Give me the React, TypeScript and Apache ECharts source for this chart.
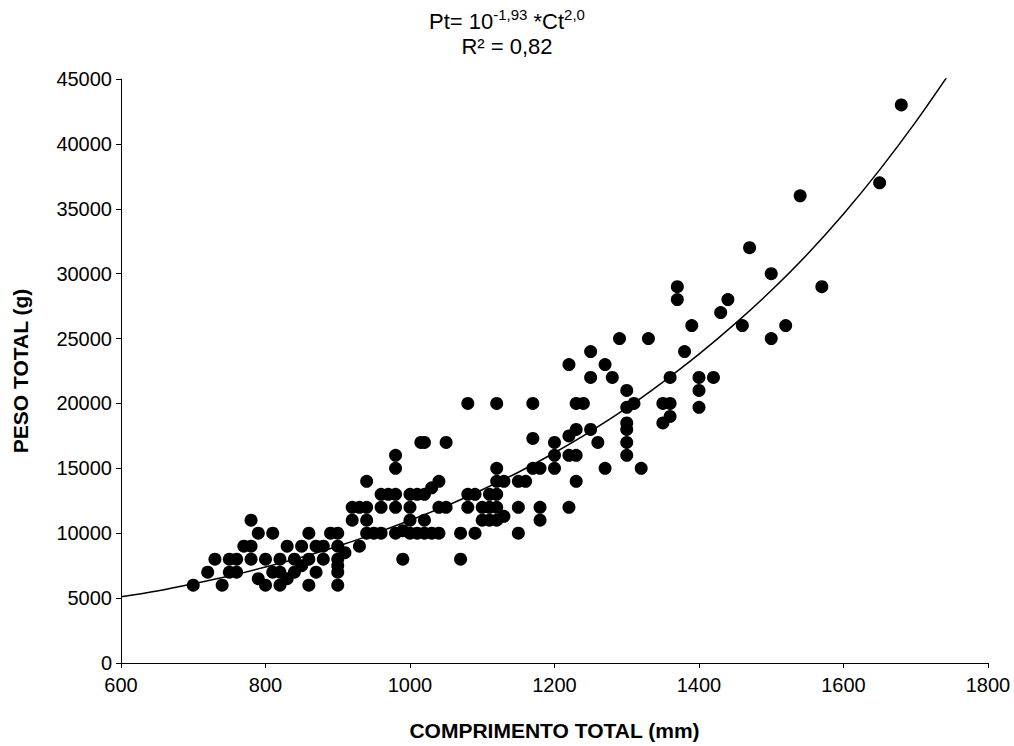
import React, { useEffect, useRef } from "react";
import * as echarts from "echarts";

const comprimento: number[] = [
  700, 720, 730, 740, 750, 750, 760, 760, 770, 780, 780, 780, 790, 790, 800, 800,
  810, 810, 820, 820, 820, 830, 830, 840, 840, 850, 850, 860, 860, 860, 870, 870,
  880, 880, 890, 900, 900, 900, 900, 900, 900, 910,
  920, 920, 930, 930, 940, 940, 940, 940, 950, 960, 960, 960, 970,
  980, 980, 980, 980, 980, 990, 990, 1000, 1000, 1000, 1000, 1010, 1010, 1015,
  1020, 1020, 1020, 1020, 1030, 1030, 1040, 1040, 1040, 1050, 1050, 1070, 1070,
  1080, 1080, 1080, 1090, 1090, 1100, 1100, 1110, 1110, 1110,
  1120, 1120, 1120, 1120, 1120, 1120, 1130, 1130, 1150, 1150, 1150, 1160,
  1170, 1170, 1170, 1180, 1180, 1180, 1200, 1200, 1200,
  1220, 1220, 1220, 1220, 1230, 1230, 1230, 1230, 1240, 1250, 1250, 1250, 1260,
  1270, 1270, 1280, 1290, 1300, 1300, 1300, 1300, 1300, 1300, 1310, 1320, 1330,
  1350, 1350, 1360, 1360, 1360, 1370, 1370, 1380, 1390, 1400, 1400, 1400, 1420,
  1430, 1440, 1460, 1470, 1500, 1500, 1520, 1540, 1570, 1650, 1680,
];

const peso: number[] = [
  6000, 7000, 8000, 6000, 7000, 8000, 7000, 8000, 9000, 11000, 9000, 8000, 10000, 6500, 8000, 6000,
  10000, 7000, 8000, 7000, 6000, 9000, 6500, 8000, 7000, 9000, 7500, 10000, 8000, 6000, 9000, 7000,
  9000, 8000, 10000, 10000, 9000, 8000, 7500, 7000, 6000, 8500,
  12000, 11000, 12000, 9000, 14000, 12000, 11000, 10000, 10000, 13000, 12000, 10000, 13000,
  16000, 15000, 13000, 12000, 10000, 10200, 8000, 13000, 12000, 11000, 10000, 13000, 10000, 17000,
  17000, 13000, 11000, 10000, 13500, 10000, 14000, 12000, 10000, 17000, 12000, 10000, 8000,
  20000, 13000, 12000, 13000, 10000, 12000, 11000, 13000, 12000, 11000,
  20000, 15000, 14000, 13000, 12000, 11000, 14000, 11300, 14000, 12000, 10000, 14000,
  20000, 17300, 15000, 15000, 12000, 11000, 17000, 16000, 15000,
  23000, 17500, 16000, 12000, 20000, 18000, 16000, 14000, 20000, 24000, 22000, 18000, 17000,
  23000, 15000, 22000, 25000, 21000, 19700, 18500, 18000, 17000, 16000, 20000, 15000, 25000,
  20000, 18500, 22000, 20000, 19000, 29000, 28000, 24000, 26000, 22000, 21000, 19700, 22000,
  27000, 28000, 26000, 32000, 30000, 25000, 26000, 36000, 29000, 37000, 43000,
];

// trend line, every 50 mm
const curvaX: number[] = [
  600, 650, 700, 750, 800, 850, 900, 950, 1000, 1050, 1100, 1150, 1200,
  1250, 1300, 1350, 1400, 1450, 1500, 1550, 1600, 1650, 1700, 1745,
];
const curvaY: number[] = [
  5100, 5550, 6100, 6700, 7400, 8150, 9000, 9950, 11000, 12100, 13350, 14700, 16200,
  17850, 19650, 21650, 23800, 26150, 28700, 31500, 34600, 38000, 41700, 45300,
];

const tituloLinha1 = ["Pt= 10", "-1,93", " *Ct", "2,0"];
const tituloLinha2 = "R² = 0,82";
const eixoX = "COMPRIMENTO TOTAL (mm)";
const eixoY = "PESO TOTAL (g)";

const FONT = "Liberation Sans, Arial, sans-serif";

export default function App() {
  const ref = useRef<HTMLDivElement>(null);
  useEffect(() => {
    if (!ref.current) return;
    const chart = echarts.init(ref.current, null, { renderer: "svg" });
    const pontos = comprimento.map((c, i) => [c, peso[i]]);
    const curva = curvaX.map((c, i) => [c, curvaY[i]]);
    chart.setOption({
      animation: false,
      backgroundColor: "#ffffff",
      textStyle: { fontFamily: FONT },
      title: {
        left: "center",
        top: 7,
        padding: 0,
        text:
          `{a|${tituloLinha1[0]}}{s|${tituloLinha1[1]}}{a|${tituloLinha1[2]}}{s|${tituloLinha1[3]}}\n{a|${tituloLinha2}}`,
        textStyle: {
          fontWeight: "normal",
          rich: {
            a: { fontSize: 22, lineHeight: 25, color: "#000", fontFamily: FONT, fontWeight: "normal", verticalAlign: "bottom" },
            s: { fontSize: 15, lineHeight: 25, color: "#000", fontFamily: FONT, fontWeight: "normal", verticalAlign: "top" },
          },
        },
      },
      grid: { left: 121, right: 26, top: 79, bottom: 76, containLabel: false },
      xAxis: {
        type: "value",
        min: 600,
        max: 1800,
        interval: 200,
        name: eixoX,
        nameLocation: "middle",
        nameGap: 57,
        nameTextStyle: { fontSize: 21, fontWeight: "bold", color: "#000", fontFamily: FONT },
        axisLine: { onZero: false, lineStyle: { color: "#000", width: 1 } },
        axisTick: { show: true, inside: false, length: 5, lineStyle: { color: "#000" } },
        axisLabel: { fontSize: 20, color: "#000", margin: 12, fontFamily: FONT, formatter: (v: number) => String(v) },
        splitLine: { show: false },
      },
      yAxis: {
        type: "value",
        min: 0,
        max: 45000,
        interval: 5000,
        name: eixoY,
        nameLocation: "middle",
        nameGap: 90,
        nameRotate: 90,
        nameTextStyle: { fontSize: 21, fontWeight: "bold", color: "#000", fontFamily: FONT },
        axisLine: { show: true, onZero: false, lineStyle: { color: "#000", width: 1 } },
        axisTick: { show: true, inside: false, length: 5, lineStyle: { color: "#000" } },
        axisLabel: { fontSize: 20, color: "#000", margin: 9, fontFamily: FONT, formatter: (v: number) => String(v) },
        splitLine: { show: false },
      },
      series: [
        {
          type: "scatter",
          data: pontos,
          symbol: "circle",
          symbolSize: 13,
          itemStyle: { color: "#000", opacity: 1 },
          z: 2,
        },
        {
          type: "line",
          data: curva,
          smooth: 0.3,
          showSymbol: false,
          symbol: "none",
          lineStyle: { color: "#000", width: 1.5 },
          z: 3,
        },
      ],
    });
    return () => chart.dispose();
  }, []);
  return (
    <div
      ref={ref}
      style={{ position: "fixed", left: 0, top: 0, width: 1014, height: 746, background: "#fff" }}
    />
  );
}
